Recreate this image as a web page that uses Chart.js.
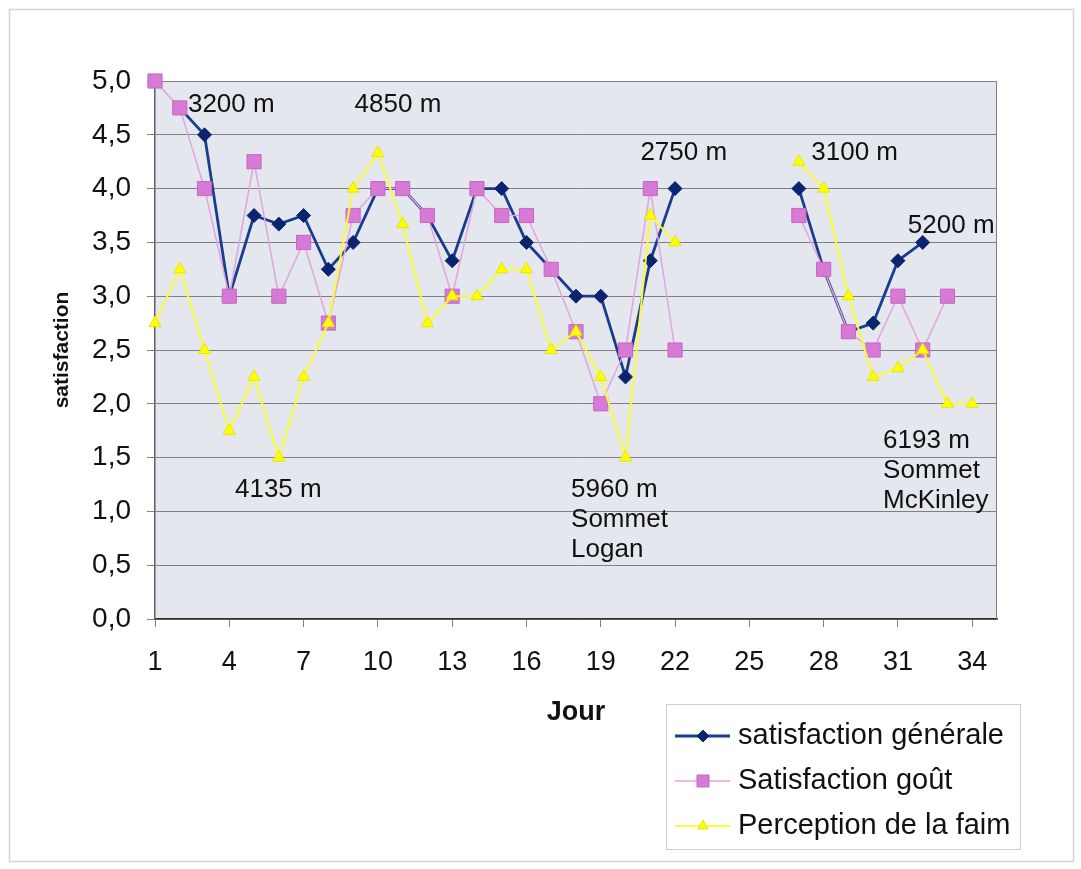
<!DOCTYPE html>
<html>
<head>
<meta charset="utf-8">
<script src="https://cdn.jsdelivr.net/npm/chart.js@4.4.0/dist/chart.umd.min.js"></script>
<style>
  html, body { margin: 0; padding: 0; background: #ffffff; }
  #wrap { position: relative; width: 1081px; height: 869px; }
  canvas { display: block; }
</style>
</head>
<body>
<div id="wrap"><canvas id="c" width="1081" height="869"></canvas></div>
<script>
// ---- data ----
const days = [1,2,3,4,5,6,7,8,9,10,11,12,13,14,15,16,17,18,19,20,21,22,23,24,25,26,27,28,29,30,31,32,33,34];
const satisfactionGenerale = [null,4.75,4.5,3.0,3.75,3.67,3.75,3.25,3.5,4.0,4.0,3.75,3.33,4.0,4.0,3.5,3.25,3.0,3.0,2.25,3.33,4.0,null,null,null,null,4.0,3.25,2.67,2.75,3.33,3.5,null,null];
const satisfactionGout = [5.0,4.75,4.0,3.0,4.25,3.0,3.5,2.75,3.75,4.0,4.0,3.75,3.0,4.0,3.75,3.75,3.25,2.67,2.0,2.5,4.0,2.5,null,null,null,null,3.75,3.25,2.67,2.5,3.0,2.5,3.0,null];
const perceptionFaim = [2.75,3.25,2.5,1.75,2.25,1.5,2.25,2.75,4.0,4.33,3.67,2.75,3.0,3.0,3.25,3.25,2.5,2.67,2.25,1.5,3.75,3.5,null,null,null,null,4.25,4.0,3.0,2.25,2.33,2.5,2.0,2.0];
const xTickLabels = [1,4,7,10,13,16,19,22,25,28,31,34];
const seriesNames = ['satisfaction générale','Satisfaction goût','Perception de la faim'];
// annotations: [day, value, lines]
const annotations = [
  [2.33, 4.78, ['3200 m']],
  [9.06, 4.78, ['4850 m']],
  [4.23, 1.20, ['4135 m']],
  [20.6, 4.33, ['2750 m']],
  [17.8, 1.20, ['5960 m','Sommet','Logan']],
  [27.5, 4.33, ['3100 m']],
  [31.4, 3.65, ['5200 m']],
  [30.4, 1.66, ['6193 m','Sommet','McKinley']]
];

const toXY = arr => days.map((d,i) => ({x: d, y: arr[i]}));
const FONT = '"Liberation Sans", Arial, sans-serif';

const styles = [
  {line:'#1a3c8c', point:'#0b2470', border:'#0b2470', style:'rectRot', radius:7, width:2.8},
  {line:'#e3a3e1', point:'#d77ad6', border:'#c466c4', style:'rect', radius:10, width:1.5},
  {line:'#fbfb3a', point:'#ffff00', border:'#e6e600', style:'triangle', radius:7, width:2}
];

const bgPlugin = {
  id: 'bg',
  beforeDraw(chart) {
    const {ctx, chartArea: a} = chart;
    ctx.save();
    ctx.strokeStyle = '#d4d4d4';
    ctx.lineWidth = 1.5;
    ctx.strokeRect(9.5, 9.5, 1064, 852);
    ctx.fillStyle = '#e4e7ee';
    ctx.fillRect(a.left, a.top, a.right - a.left, a.bottom - a.top);
    ctx.restore();
  },
  beforeDatasetsDraw(chart) {
    const {ctx, chartArea: a} = chart;
    ctx.save();
    ctx.strokeStyle = '#808080';
    ctx.lineWidth = 1;
    ctx.beginPath();
    ctx.moveTo(a.left, a.top + 0.5); ctx.lineTo(a.right - 0.5, a.top + 0.5); ctx.lineTo(a.right - 0.5, a.bottom);
    ctx.stroke();
    ctx.restore();
  },
  afterDatasetsDraw(chart) {
    const {ctx, scales: {x, y}} = chart;
    ctx.save();
    // annotations
    ctx.fillStyle = '#111111';
    ctx.font = '26px ' + FONT;
    ctx.textBaseline = 'middle';
    ctx.textAlign = 'left';
    annotations.forEach(([d, v, lines]) => {
      const px = x.getPixelForValue(d), py = y.getPixelForValue(v);
      lines.forEach((t, i) => ctx.fillText(t, px, py + i * 30));
    });
    // legend
    const lx = 666, ly = 704, lw = 354, lh = 145;
    ctx.fillStyle = '#ffffff';
    ctx.fillRect(lx, ly, lw, lh);
    ctx.strokeStyle = '#cfcfcf';
    ctx.lineWidth = 1;
    ctx.strokeRect(lx + 0.5, ly + 0.5, lw, lh);
    seriesNames.forEach((name, i) => {
      const s = styles[i];
      const yy = 736 + i * 45;
      ctx.strokeStyle = s.line;
      ctx.lineWidth = s.width;
      ctx.beginPath(); ctx.moveTo(675, yy); ctx.lineTo(730, yy); ctx.stroke();
      ctx.fillStyle = s.point; ctx.strokeStyle = s.border; ctx.lineWidth = 1;
      Chart.helpers.drawPoint(ctx, {pointStyle: s.style, radius: s.radius * 0.85, borderWidth: 1}, 703, yy);
      ctx.fillStyle = '#111111';
      ctx.font = '29px ' + FONT;
      ctx.fillText(name, 738, yy);
    });
    ctx.restore();
  }
};

new Chart(document.getElementById('c'), {
  type: 'line',
  data: {
    datasets: [satisfactionGenerale, satisfactionGout, perceptionFaim].map((arr, i) => ({
      label: seriesNames[i],
      data: toXY(arr),
      borderColor: styles[i].line,
      borderWidth: styles[i].width,
      backgroundColor: styles[i].point,
      pointBackgroundColor: styles[i].point,
      pointBorderColor: styles[i].border,
      pointBorderWidth: 1,
      pointStyle: styles[i].style,
      pointRadius: styles[i].radius,
      spanGaps: false,
      tension: 0,
      clip: false,
      order: 3 - i
    }))
  },
  options: {
    responsive: false,
    animation: false,
    layout: { padding: { left: 0, top: 81, right: 84, bottom: 0 } },
    plugins: { legend: { display: false }, tooltip: { enabled: false } },
    elements: { point: { hitRadius: 0 } },
    scales: {
      x: {
        type: 'linear', min: 1, max: 35,
        afterBuildTicks: s => { s.ticks = xTickLabels.map(v => ({value: v})); },
        afterFit: s => { s.height = 250; },
        grid: { drawOnChartArea: false, drawTicks: true, tickLength: 8, color: '#808080' },
        border: { color: '#303030', width: 1.5 },
        ticks: { color: '#111', font: { size: 27, family: FONT }, padding: 19, autoSkip: false, maxRotation: 0 },
        title: { display: true, text: 'Jour', color: '#111', font: { size: 27, weight: 'bold', family: FONT }, padding: { top: 0, bottom: 140 } }
      },
      y: {
        min: 0, max: 5,
        afterFit: s => { s.width = 155; },
        ticks: { stepSize: 0.5, color: '#111', font: { size: 28, family: FONT }, padding: 16,
          callback: v => v.toFixed(1).replace('.', ',') },
        grid: { color: '#808080', lineWidth: 1, tickLength: 8, drawTicks: true },
        border: { color: '#606060', width: 1.5 },
        title: { display: true, text: 'satisfaction', color: '#111', font: { size: 21, weight: 'bold', family: FONT }, padding: { top: 50 } }
      }
    }
  },
  plugins: [bgPlugin]
});
</script>
</body>
</html>
